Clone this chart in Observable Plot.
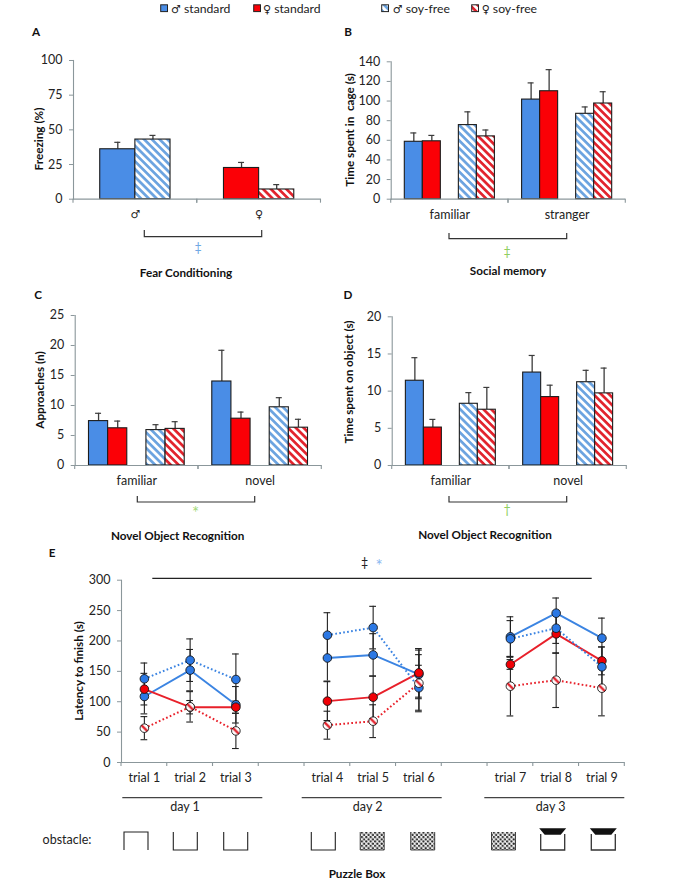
<!doctype html>
<html><head><meta charset="utf-8">
<script src="https://cdn.jsdelivr.net/npm/d3@7"></script>
<script src="https://cdn.jsdelivr.net/npm/@observablehq/plot@0.6"></script>
<style>
html,body{margin:0;padding:0;background:#fff}
#chart{position:relative;width:700px;height:883px;overflow:hidden;font-family:Lato,"Open Sans",sans-serif;color:#222}
#chart>svg,#chart .plot{position:absolute}
.t{position:absolute;white-space:nowrap;transform:translate(-50%,-50%);line-height:1;font-size:12.5px}
.b{font-weight:700;font-size:11.7px;color:#111}
.r{transform:translate(-50%,-50%) rotate(-90deg)}
.l{transform:translate(0,-50%);font-size:12.2px}
.l span{font-family:"DejaVu Sans";font-size:11px}
</style></head><body><div id="chart"></div>
<script>
// ---------- data ----------
const seriesNames = ["♂ standard", "♀ standard", "♂ soy-free", "♀ soy-free"];
const GAP = "gap";

const fearGroups = ["♂", "♀"];
const fearSeries = ["♂ standard", "♂ soy-free", "♀ standard", "♀ soy-free"];
const fearMean = [36, 43, 22.5, 7];
const fearTop = [41, 46, 26.5, 10.5];

const socialGroups = ["familiar", "stranger"];
const socialMean = [58.5, 59, 75.5, 64, 101.5, 110, 87, 97.5];
const socialTop = [67.5, 65, 89, 70.5, 118.5, 132, 94, 109.5];

const objectGroups = ["familiar", "novel"];
const approachMean = [7.4, 6.2, 5.9, 6.1, 14, 7.8, 9.7, 6.3];
const approachTop = [8.7, 7.4, 6.8, 7.3, 19.2, 8.9, 11.3, 7.7];
const objectTimeMean = [11.4, 5.1, 8.3, 7.5, 12.5, 9.2, 11.2, 9.7];
const objectTimeTop = [14.5, 6.2, 9.8, 10.5, 14.8, 10.8, 12.8, 13.1];

const trials = ["trial 1","trial 2","trial 3","trial 4","trial 5","trial 6","trial 7","trial 8","trial 9"];
const trialSlots = ["trial 1","trial 2","trial 3"," ","trial 4","trial 5","trial 6","  ","trial 7","trial 8","trial 9"];
const trialDays = [1,1,1,2,2,2,3,3,3];
const maleStd = [108.6,152,95,172,177,145,206.8,245.7,204.6];
const maleStdErr = [28.6,34,30,38,35,40,33,25,33];
const femaleStd = [120.7,91,91,101,107.5,147.5,161.3,211.7,167.3];
const femaleStdErr = [26,11,10,32,35,40,8,32,23];
const maleSoy = [137.7,168.4,136.6,209.5,222,123,203.5,221,157.4];
const maleSoyErr = [26,35,42,37,35,37,30,25,32.6];
const femaleSoy = [56.5,91.6,52,61.4,68,130.5,125.6,135.5,122.3];
const femaleSoyErr = [19,25,29,23,27,47,49,45,45.5];

// ---------- colours ----------
const AXIS = "#8b979b", INK = "#3c3c3c";
const fills = ["#4a8de6", "#fb0006", "url(#hatchBlue)", "url(#hatchRed)"];
const root = document.getElementById("chart");

// shared pattern definitions
const defsSvg = d3.select(root).append("svg").attr("width",0).attr("height",0).style("left",0).style("top",0);
const defs = defsSvg.append("defs");
function stripes(id, color, w=2.7, p=5.5){
  const pat = defs.append("pattern").attr("id",id).attr("patternUnits","userSpaceOnUse")
    .attr("width",p).attr("height",p).attr("patternTransform","rotate(45)");
  pat.append("rect").attr("width",p).attr("height",p).attr("fill","#fff");
  pat.append("rect").attr("width",p).attr("height",w).attr("fill",color);
}
stripes("hatchBlue","#6ba3e0");
stripes("hatchRed","#e2222c");
const mk = defs.append("pattern").attr("id","hatchMarker").attr("patternUnits","objectBoundingBox")
  .attr("patternContentUnits","objectBoundingBox").attr("width",1).attr("height",1);
mk.append("rect").attr("width",1).attr("height",1).attr("fill","#fff");
mk.append("path").attr("d","M0,0L1,1").attr("stroke","#e2222c").attr("stroke-width",.27);
const dots = defs.append("pattern").attr("id","stipple").attr("patternUnits","userSpaceOnUse").attr("width",4.4).attr("height",4.4);
dots.append("rect").attr("width",4.4).attr("height",4.4).attr("fill","#f2f2f2");
dots.append("circle").attr("cx",1.1).attr("cy",1.1).attr("r",1.15).attr("fill","#2a2a2a");
dots.append("circle").attr("cx",3.3).attr("cy",3.3).attr("r",1.15).attr("fill","#2a2a2a");

// boundary ticks below the category axis, repeated in each facet
const edgeTicks = (index, scales, values, dim) => {
  const y0 = dim.height - dim.marginBottom;
  const g = d3.create("svg:g").attr("stroke",AXIS).attr("stroke-width",1.1);
  for (const x of [dim.marginLeft, dim.width - dim.marginRight])
    g.append("line").attr("x1",x).attr("x2",x).attr("y1",y0).attr("y2",y0+4);
  return g.node();
};

function barPanel({left, x0, x1, yTop, yBottom, top, labelDy, yDomain, yTicks, groups, slots, key, series, mean, tops, outer, symbolAxis}){
  const rows = mean.map((v,i)=>({
    group: groups[Math.floor(i/(mean.length/groups.length))],
    series: series[i], key: key(series[i]), v, top: tops[i]}));
  const bw = (x1-x0)/groups.length/(slots.length+2*outer);
  const inset = Math.max(0,(bw-6)/2);
  const p = Plot.plot({
    width: x1-left+8, height: yBottom-top+30,
    marginLeft: x0-left, marginRight: 8, marginTop: yTop-top, marginBottom: 30,
    style:{fontFamily:"Lato",fontSize:"12.5px",background:"transparent",overflow:"visible"},
    fx:{domain:groups,padding:0,round:false,axis:null},
    x:{domain:slots,paddingInner:0,paddingOuter:outer,round:false,axis:null},
    y:{domain:yDomain,axis:null},
    color:{domain:seriesNames,range:fills},
    marks:[
      Plot.axisY({ticks:yTicks,tickSize:4,tickPadding:7,stroke:AXIS,fill:"#222",label:null,anchor:"left"}),
      Plot.axisFx({anchor:"bottom",tickSize:0,tickPadding:labelDy,label:null,fill:"#222",
        ...(symbolAxis?{fontFamily:"DejaVu Sans",fontSize:11}:{})}),
      Plot.ruleX(rows,{fx:"group",x:"key",y1:"v",y2:"top",stroke:INK,strokeWidth:1.3}),
      Plot.tickY(rows,{fx:"group",x:"key",y:"top",stroke:INK,strokeWidth:1.2,insetLeft:inset,insetRight:inset}),
      Plot.barY(rows,{fx:"group",x:"key",y:"v",fill:"series",stroke:"#1c1c1c",strokeWidth:1.1}),
      Plot.frame({anchor:"left",facetAnchor:"left",stroke:AXIS,strokeWidth:1.1}),
      Plot.ruleY([0],{stroke:AXIS,strokeWidth:1.2}),
      edgeTicks
    ]
  });
  p.style.position="absolute"; p.style.left=left+"px"; p.style.top=top+"px";
  root.appendChild(p);
}
const fourSlots = [seriesNames[0],seriesNames[1],GAP,seriesNames[2],seriesNames[3]];
const fourRepeat = [...seriesNames,...seriesNames];

barPanel({left:0,top:40,x0:73,x1:320.5,yTop:60,yBottom:198.7,labelDy:11,yDomain:[0,100],yTicks:[0,25,50,75,100],symbolAxis:true,
  groups:fearGroups,slots:["standard","soy-free"],key:s=>s.split(" ")[1],series:fearSeries,mean:fearMean,tops:fearTop,outer:.76});
barPanel({left:345,top:40,x0:390.7,x1:625.3,yTop:61.3,yBottom:198.7,labelDy:11,yDomain:[0,140],yTicks:d3.range(0,141,20),
  groups:socialGroups,slots:fourSlots,key:s=>s,series:fourRepeat,mean:socialMean,tops:socialTop,outer:.755});
barPanel({left:0,top:300,x0:74.7,x1:321.3,yTop:315,yBottom:465,labelDy:11,yDomain:[0,25],yTicks:[0,5,10,15,20,25],
  groups:objectGroups,slots:fourSlots,key:s=>s,series:fourRepeat,mean:approachMean,tops:approachTop,outer:.72});
barPanel({left:345,top:300,x0:391.7,x1:626.3,yTop:316.3,yBottom:465,labelDy:11,yDomain:[0,20],yTicks:[0,5,10,15,20],
  groups:objectGroups,slots:fourSlots,key:s=>s,series:fourRepeat,mean:objectTimeMean,tops:objectTimeTop,outer:.76});

// ---------- panel E ----------
const lineRows = [
  ["♂ standard",maleStd,maleStdErr],["♀ standard",femaleStd,femaleStdErr],
  ["♂ soy-free",maleSoy,maleSoyErr],["♀ soy-free",femaleSoy,femaleSoyErr]
].flatMap(([series,vals,errs])=>vals.map((v,i)=>({series,trial:trials[i],day:trialDays[i],v,lo:v-errs[i],hi:v+errs[i]})));
const slotTicks = (index, {x}, values, dim) => {
  const y0 = dim.height - dim.marginBottom;
  const g = d3.create("svg:g").attr("stroke",AXIS).attr("stroke-width",1.1);
  const xs = [...x.domain().map(d=>x(d)), dim.width-dim.marginRight];
  for (const px of xs) g.append("line").attr("x1",px).attr("x2",px).attr("y1",y0).attr("y2",y0+4);
  return g.node();
};
const lineColor = {"♂ standard":"#3b84e2","♀ standard":"#e8202a","♂ soy-free":"#3b84e2","♀ soy-free":"#e8202a"};
const eInset = 19.5;
const lineMarks = s => {
  const rows = lineRows.filter(d=>d.series===s);
  const soy = s.includes("soy");
  return Plot.line(rows,{x:"trial",y:"v",z:"day",stroke:lineColor[s],strokeWidth:soy?2:1.9,strokeDasharray:soy?"1.7 2.3":null,strokeLinecap:"butt"});
};
const dotMarks = s => Plot.dot(lineRows.filter(d=>d.series===s),{x:"trial",y:"v",r:4.3,
  fill: s==="♀ soy-free"?"url(#hatchMarker)":(s.startsWith("♂")?"#2b78e4":"#f00006"),stroke:"#161616",strokeWidth:.9});
const ePlot = Plot.plot({
  width:634,height:232,marginLeft:121,marginRight:9.7,marginTop:9.7,marginBottom:40,
  style:{fontFamily:"Lato",fontSize:"12.5px",background:"transparent",overflow:"visible"},
  x:{domain:trialSlots,padding:0,round:false,axis:null},
  y:{domain:[0,300],axis:null},
  marks:[
    Plot.axisY({ticks:d3.range(0,301,50),tickSize:4,tickPadding:7,stroke:AXIS,fill:"#222",label:null}),
    Plot.axisX({ticks:trials,tickSize:0,tickPadding:11,label:null,fill:"#222"}),
    Plot.ruleX(lineRows,{x:"trial",y1:"lo",y2:"hi",stroke:"#222",strokeWidth:1.1}),
    Plot.tickY(lineRows,{x:"trial",y:"hi",stroke:"#222",strokeWidth:1.1,insetLeft:eInset,insetRight:eInset}),
    Plot.tickY(lineRows,{x:"trial",y:"lo",stroke:"#222",strokeWidth:1.1,insetLeft:eInset,insetRight:eInset}),
    ...seriesNames.map(lineMarks),
    ...seriesNames.map(dotMarks),
    Plot.frame({anchor:"left",stroke:AXIS,strokeWidth:1.1}),
    Plot.ruleY([0],{stroke:AXIS,strokeWidth:1.2}),
    slotTicks
  ]
});
ePlot.style.position="absolute"; ePlot.style.left="0px"; ePlot.style.top="570px";
root.appendChild(ePlot);

// ---------- annotation overlay ----------
const over = d3.select(root).append("svg").attr("width",700).attr("height",883).style("left",0).style("top",0).style("pointer-events","none");
function bracket(x1,x2,yt,yb){ over.append("path").attr("d",`M${x1},${yt}V${yb}H${x2}V${yt}`).attr("fill","none").attr("stroke","#333").attr("stroke-width",1.2); }
bracket(144.3,261.7,230,236.7);
bracket(449,566.7,233,238.7);
bracket(137.3,254.7,496,502);
bracket(449,566.7,496,502);
over.append("line").attr("x1",152.3).attr("x2",591.7).attr("y1",578.3).attr("y2",578.3).attr("stroke","#222").attr("stroke-width",1.2);
for (const [a,b] of [[122.3,262.3],[301.7,441.7],[484.3,624.3]])
  over.append("line").attr("x1",a).attr("x2",b).attr("y1",797.7).attr("y2",797.7).attr("stroke","#444").attr("stroke-width",1.3);
function box(x,kind){
  const w=24,t=832,b=850;
  if(kind==="closedTop") over.append("path").attr("d",`M${x},${b}V${t}H${x+w}V${b}`).attr("fill","none").attr("stroke","#222").attr("stroke-width",1.1);
  if(kind==="open") over.append("path").attr("d",`M${x},${t}V${b}H${x+w}V${t}`).attr("fill","none").attr("stroke","#222").attr("stroke-width",1.1);
  if(kind==="stipple"){
    over.append("rect").attr("x",x).attr("y",t).attr("width",w).attr("height",b-t).attr("fill","url(#stipple)");
    over.append("path").attr("d",`M${x},${t}V${b}H${x+w}V${t}`).attr("fill","none").attr("stroke","#333").attr("stroke-width",.9);
  }
  if(kind==="door"){
    over.append("path").attr("d",`M${x},${t+2}V${b}H${x+w}V${t+2}`).attr("fill","none").attr("stroke","#333").attr("stroke-width",1.3);
    over.append("path").attr("d",`M${x-1.5},${t-3.7}H${x+w+1.5}L${x+w-4},${t+2.7}H${x+4}Z`).attr("fill","#111");
  }
}
[[124,"closedTop"],[173.3,"open"],[223.7,"open"],[311.3,"open"],[360.2,"stipple"],[410.7,"stipple"],[491.5,"stipple"],[540.7,"door"],[591.3,"door"]].forEach(([x,k])=>box(x,k));

// ---------- text ----------
function text(s,x,y,cls="",style=""){
  const d=document.createElement("div"); d.className="t "+cls; d.textContent=s;
  d.style.cssText=`left:${x}px;top:${y}px;${style}`; root.appendChild(d);
  return d;
}
[["A",36,32],["B",348,32],["C",38,295],["D",348,295],["E",52,553]].forEach(([s,x,y])=>text(s,x,y,"b"));
text("Freezing (%)",38.5,139,"b r");
text("Time spent in  cage (s)",350,130,"b r","white-space:pre");
text("Approaches (n)",40,390,"b r");
text("Time spent on object (s)",349,382,"b r");
text("Latency to finish (s)",79.3,670.7,"b r");
text("Fear Conditioning",186,273,"b");
text("Social memory",508,271,"b");
text("Novel Object Recognition",177.7,535.7,"b");
text("Novel Object Recognition",485,535,"b");
text("Puzzle Box",357,874,"b");
text("‡",198,248,"","color:#6fa8e4");
text("‡",507,252,"","color:#8fce60");
text("*",195.5,512,"","color:#a3d97a;font-size:17px");
text("†",507,510,"","color:#8fce60");
text("‡",364.5,563,"","color:#222");
text("*",379,564.5,"","color:#8bb8f0;font-size:17px");
text("day 1",185,807); text("day 2",367.7,807); text("day 3",550.7,807);
text("obstacle:",67,840);

// legend
[[160.7,"♂","standard",fills[0],171],[253.7,"♀","standard",fills[1],263],[381.7,"♂","soy-free",fills[2],392.7],[471.7,"♀","soy-free",fills[3],481.7]]
.forEach(([x,sym,s,f,tx])=>{
  over.append("rect").attr("x",x).attr("y",4.8).attr("width",6.8).attr("height",6.8).attr("fill",f).attr("stroke","#222").attr("stroke-width",1);
  const d=text("",tx,8.5,"l");
  const sp=document.createElement("span"); sp.textContent=sym; d.appendChild(sp);
  d.appendChild(document.createTextNode(" "+s));
});
</script></body></html>
